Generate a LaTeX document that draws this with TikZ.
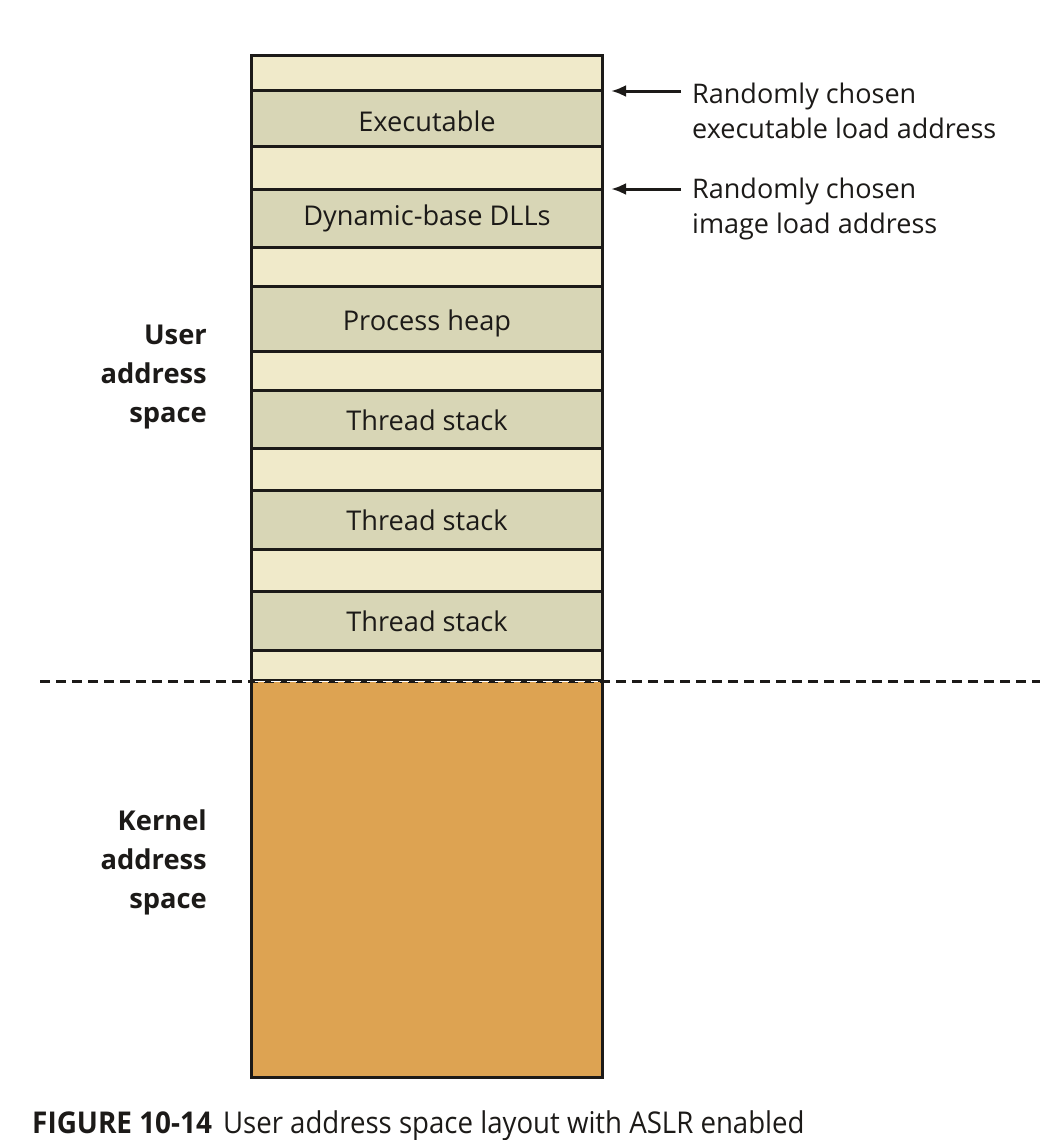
\documentclass[tikz,border=0pt]{standalone}
\usepackage{fontspec}
\setmainfont{Open Sans}
\usepackage{graphicx}
\usetikzlibrary{arrows.meta}
\definecolor{cream}{RGB}{240,234,202}
\definecolor{khaki}{RGB}{216,214,182}
\definecolor{kern}{RGB}{221,163,82}
\definecolor{ink}{RGB}{28,26,24}
\begin{document}
\begin{tikzpicture}[x=1pt,y=-1pt,
  seg/.style={draw=ink,line width=3pt},
  free/.style={seg,fill=cream},
  used/.style={seg,fill=khaki},
  boxtext/.style={font=\fontsize{27.2}{30}\selectfont,text=ink,inner sep=0pt},
  sidetext/.style={font=\fontsize{27}{35}\selectfont,text=ink,align=left,anchor=west,inner sep=0pt},
  regiontext/.style={font=\fontsize{27.3}{39}\selectfont\bfseries,text=ink,align=right,anchor=east,inner sep=0pt},
  pointer/.style={-{Latex[length=15pt,width=12pt]},line width=3pt,draw=ink},
]
\useasboundingbox (0,0) rectangle (1042,1140);
\fill[white] (0,0) rectangle (1042,1140);
% segments
\draw[free] (251,56) rectangle (602,90);
\draw[used] (251,90) rectangle (602,146);
\draw[free] (251,146) rectangle (602,189);
\draw[used] (251,189) rectangle (602,247);
\draw[free] (251,247) rectangle (602,286);
\draw[used] (251,286) rectangle (602,351);
\draw[free] (251,351) rectangle (602,390);
\draw[used] (251,390) rectangle (602,448);
\draw[free] (251,448) rectangle (602,490);
\draw[used] (251,490) rectangle (602,549);
\draw[free] (251,549) rectangle (602,591);
\draw[used] (251,591) rectangle (602,650);
\draw[free] (251,650) rectangle (602,680);
\draw[seg,fill=kern] (251,680) rectangle (602,1077);
% box labels
\node[boxtext] (exe) at (427,121) {Executable};
\node[boxtext] (dll) at (427,218) {Dynamic-base DLLs};
\node[boxtext] (heap) at (427,323) {Process heap};
\node[boxtext] (ts1) at (427,420) {Thread stack};
\node[boxtext] (ts2) at (427,520) {Thread stack};
\node[boxtext] (ts3) at (427,621) {Thread stack};
% dashed boundary
\coordinate (dl) at (40,681);
\coordinate (dr) at (1040,681);
\draw[ink,line width=3pt,dash pattern=on 10pt off 6pt] (dl) -- (dr);
\coordinate (wl) at (255,681);
\coordinate (wr) at (598,681);
\draw[white,line width=0.8pt,dash pattern=on 10pt off 6pt] (wl) -- (wr);
% side labels
\node[sidetext] (lab1) at (692,111) {Randomly chosen\\executable load address};
\node[sidetext] (lab2) at (692,209) {Randomly chosen\\image load address};
\coordinate (p1) at (611,91);
\coordinate (p2) at (611,189);
\coordinate (s1) at (681,91);
\coordinate (s2) at (681,189);
\draw[pointer] (s1) -- (p1);
\draw[pointer] (s2) -- (p2);
% region labels
\node[regiontext] (user) at (207,377) {User\\address\\space};
\node[regiontext] (kernel) at (207,862) {Kernel\\address\\space};
% caption
\node[anchor=base west,inner sep=0pt,text=ink,font=\fontsize{30}{34}\selectfont] (cap) at (32,1133)
  {\scalebox{0.93}[1]{\bfseries FIGURE 10-14}\hspace{11pt}\scalebox{0.92}[1]{User address space layout with ASLR enabled}};
\end{tikzpicture}
\end{document}
